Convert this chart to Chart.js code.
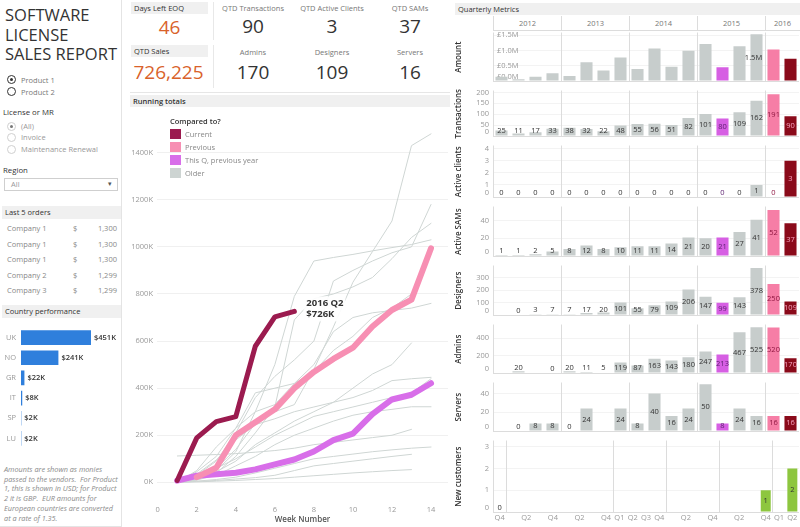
<!DOCTYPE html>
<html><head><meta charset="utf-8">
<script src="https://cdn.jsdelivr.net/npm/chart.js@4.4.1/dist/chart.umd.min.js"></script>
<style>
html,body{margin:0;padding:0}
body{width:800px;height:527px;overflow:hidden;background:#fff;font-family:'Open Sans',sans-serif;position:relative;color:#333}
.a{position:absolute;white-space:nowrap}
canvas{position:absolute}
.hdr{position:absolute;background:#f0f0f0;font-size:7.5px;font-weight:600;color:#333;line-height:12px;padding-left:3px;box-sizing:border-box;white-space:nowrap}
.rb{position:absolute;width:9px;height:9px;border-radius:50%;box-sizing:border-box;border:1px solid #333}
.rb.on::after{content:'';position:absolute;left:2px;top:2px;width:3px;height:3px;border-radius:50%;background:#333}
.rb.lt{border-color:#d0d0d0}
.rb.lt.on::after{background:#777}
.lbl{font-size:7.5px;color:#777;line-height:10px}
.kl{position:absolute;width:80px;text-align:center;font-size:7.5px;color:#777;line-height:10px;white-space:nowrap}
.kv{position:absolute;width:80px;text-align:center;font-size:19px;color:#333;line-height:22px}
.yh{position:absolute;top:16px;height:14px;line-height:14px;font-size:7.5px;color:#777;text-align:center;border-left:1px solid #dcdcdc;box-sizing:border-box}
.sw{position:absolute;width:11px;height:10px}
.lg{position:absolute;font-size:7.5px;color:#888;line-height:10px;white-space:nowrap}
</style></head><body>

<!-- left panel -->
<div class="a" style="left:0;top:0;width:121px;height:526px;border-right:1px solid #e4e4e4;border-bottom:1px solid #e4e4e4"></div>
<div class="a" style="left:5px;top:5px;font-size:16.5px;line-height:19.5px;color:#333">SOFTWARE<br>LICENSE<br>SALES REPORT</div>

<div class="rb on" style="left:7px;top:75px"></div><div class="a lbl" style="left:21px;top:75px">Product 1</div>
<div class="rb" style="left:7px;top:87px"></div><div class="a lbl" style="left:21px;top:87px">Product 2</div>

<div class="a" style="left:3px;top:107px;font-size:7.8px;color:#333;line-height:10px">License or MR</div>
<div class="rb lt on" style="left:7px;top:122px"></div><div class="a lbl" style="left:21px;top:121px;color:#999">(All)</div>
<div class="rb lt" style="left:7px;top:133px"></div><div class="a lbl" style="left:21px;top:132px;color:#999">Invoice</div>
<div class="rb lt" style="left:7px;top:145px"></div><div class="a lbl" style="left:21px;top:144px;color:#999">Maintenance Renewal</div>

<div class="a" style="left:3px;top:165px;font-size:7.8px;color:#333;line-height:10px">Region</div>
<div class="a" style="left:4px;top:178px;width:114px;height:13px;border:1px solid #cfcfcf;box-sizing:border-box"></div>
<div class="a lbl" style="left:11px;top:179px;color:#999">All</div>
<div class="a" style="left:108px;top:179px;font-size:7px;color:#555;line-height:10px">&#9662;</div>

<div class="hdr" style="left:2px;top:206px;width:119px;height:13px;font-weight:500">Last 5 orders</div>
<div id="orders"></div>

<div class="hdr" style="left:2px;top:305px;width:119px;height:13px;font-weight:500">Country performance</div>

<div class="a" style="left:4px;top:465px;font-size:7.3px;line-height:9.7px;color:#8a8a8a;font-style:italic">Amounts are shown as monies<br>passed to the vendors.&nbsp; For Product<br>1, this is shown in USD; for Product<br>2 it is GBP.&nbsp; EUR amounts for<br>European countries are converted<br>at a rate of 1.35.</div>

<!-- KPIs -->
<div class="hdr" style="left:131px;top:2px;width:77px;height:12px;font-weight:500">Days Left EOQ</div>
<div class="hdr" style="left:131px;top:45px;width:77px;height:12px;font-weight:500">QTD Sales</div>
<div id="kpiDays" class="a" style="left:131px;top:16px;width:77px;text-align:center;font-size:19px;line-height:22px;color:#d9622b"></div>
<div id="kpiSales" class="a" style="left:131px;top:61px;width:75px;text-align:center;font-size:19px;line-height:22px;color:#d9622b"></div>
<div class="a" style="left:213px;top:2px;width:1px;height:38px;background:#e8e8e8"></div>
<div class="a" style="left:213px;top:45px;width:1px;height:43px;background:#e8e8e8"></div>
<div id="kpis"></div>
<div class="a" style="left:130px;top:92px;width:320px;height:1px;background:#e6e6e6"></div>

<!-- running totals -->
<div class="hdr" style="left:130px;top:95px;width:320px;height:12px">Running totals</div>
<canvas id="run" width="323" height="420" style="left:127px;top:107px;width:323px;height:420px"></canvas>
<div class="a" style="left:170px;top:116px;font-size:7.5px;font-weight:600;color:#333;line-height:10px">Compared to?</div>
<div id="legend"></div>

<!-- quarterly -->
<div class="hdr" style="left:455px;top:3px;width:345px;height:12px;font-weight:500">Quarterly Metrics</div>
<div id="yearhdr"></div>
<div class="a" style="left:493px;top:30px;width:307px;height:1px;background:#dcdcdc"></div>

<script>
// ================= DATA =================
const orderCompanies = ['Company 1','Company 1','Company 1','Company 2','Company 3'];
const orderAmounts = ['1,300','1,300','1,300','1,299','1,299'];

const countries = ['UK','NO','GR','IT','SP','LU'];
const countrySalesK = [451, 241, 22, 8, 2, 2];

const daysLeftEOQ = '46';
const qtdSales = '726,225';
const kpiTopLabels = ['QTD Transactions','QTD Active Clients','QTD SAMs'];
const kpiTopValues = ['90','3','37'];
const kpiBottomLabels = ['Admins','Designers','Servers'];
const kpiBottomValues = ['170','109','16'];

const legendLabels = ['Current','Previous','This Q, previous year','Older'];
const legendColors = ['#9b1b4f','#f78fb3','#d86ee9','#cdd4d2'];

const weeks = [1,2,3,4,5,6,7,8,9,10,11,12,13,14];
const weekTicks = [0,2,4,6,8,10,12,14];
const runTicksK = [0,200,400,600,800,1000,1200,1400];
const runCurrent = [8,189,258,279,578,703,726];                         // $K
const runPrevious = [null,22,62,200,255,310,400,469,524,572,662,732,776,994];
const runThisQPrevYear = [7,28,34,41,55,76,97,131,179,207,290,352,372,421];
const older1 = [0,15,60,140,250,300,330,480,660,850,980,1110,1430,1480];
const older2 = [0,30,90,210,360,450,520,600,855,900,940,975,1000,1180];
const older3 = [0,10,40,110,210,320,690,780,800,830,870,950,1040,1100];
const older4 = [0,20,50,130,300,500,790,940,955,968,983,997,1010,1030];
const older5 = [0,45,110,230,300,330,420,470,560,620,700,740,800,null];
const older6 = [5,35,95,180,245,270,300,320,340,400,460,500,592,null];
const older7 = [0,20,45,90,160,210,260,300,340,360,390,432,440,446];
const older8 = [0,10,30,70,110,160,200,230,260,285,300,310,321,321];
const older9 = [112,115,118,122,128,135,145,160,170,180,190,200,225,null];
const older10 = [0,5,12,22,40,60,80,100,110,120,130,138,145,150];
const older11 = [0,4,8,14,20,30,50,70,80,90,100,110,119,null];
const older12 = [0,2,5,8,12,16,22,28,34,40,45,50,54,null];
const older13 = [0,50,150,230,380,400,420,500,640,700,720,730,740,760];
const older14 = [0,25,60,100,150,200,240,280,300,320,340,360,380,440];

const years = ['2012','2013','2014','2015','2016'];
const quartersPerYear = [4,4,4,4,2];
const quarters = ['2012 Q1','2012 Q2','2012 Q3','2012 Q4','2013 Q1','2013 Q2','2013 Q3','2013 Q4',
  '2014 Q1','2014 Q2','2014 Q3','2014 Q4','2015 Q1','2015 Q2','2015 Q3','2015 Q4','2016 Q1','2016 Q2'];
const amountM = [0.14,0.06,0.14,0.25,0.16,0.61,0.34,0.77,0.39,1.06,0.47,0.99,1.21,0.45,1.14,1.53,1.03,0.726];
const transactions = [25,11,17,33,38,32,22,48,55,56,51,82,101,80,109,162,191,90];
const activeClients = [0,0,0,0,0,0,0,0,0,0,0,0,0,0,0,1,0,3];
const activeSAMs = [1,1,2,5,8,12,8,10,11,11,14,21,20,21,27,41,52,37];
const designers = [null,0,3,7,7,17,20,101,55,79,109,206,147,99,143,378,250,109];
const admins = [null,20,null,0,20,11,5,119,87,163,143,180,247,213,467,525,520,170];
const servers = [null,0,8,8,0,24,null,24,8,40,16,24,50,8,24,16,16,16];

const amountTicks = [0,0.5,1,1.5];
const transactionTicks = [0,50,100,150,200];
const clientTicks = [0,1,2,3,4];
const samTicks = [0,20,40];
const designerTicks = [0,100,200,300];
const adminTicks = [0,200,400];
const serverTicks = [0,20,40];
const newCustomerTicks = [0,1,2,3];

const ncQuarters = ['Q4','Q1','Q2','Q3','Q4','Q1','Q2','Q3','Q4','Q1','Q2','Q3','Q4',
  'Q1','Q2','Q3','Q4','Q1','Q2','Q3','Q4','Q1','Q2'];
const ncShownTicks = [0,2,4,6,8,9,10,11,12,14,16,18,20,21,22];
const ncSectionStarts = [1,9,13,17,21];
const newCustomers = [0,null,null,null,null,null,null,null,null,null,null,null,null,
  null,null,null,null,null,null,null,1,null,2];

// ================= HTML parts =================
const FONT = "'Open Sans', sans-serif";
let h = '';
orderCompanies.forEach((c,i)=>{
  const cy = 228 + i*15.5 - 6;
  h += `<div class="a lbl" style="left:7px;top:${cy}px;line-height:12px;color:#888">${c}</div>`;
  h += `<div class="a lbl" style="left:73px;top:${cy}px;line-height:12px;color:#888">$</div>`;
  h += `<div class="a lbl" style="left:77px;width:40px;text-align:right;top:${cy}px;line-height:12px;color:#888">${orderAmounts[i]}</div>`;
});
document.getElementById('orders').innerHTML = h;

document.getElementById('kpiDays').textContent = daysLeftEOQ;
document.getElementById('kpiSales').textContent = qtdSales;
h = '';
const kpiX = [253,332,410];
kpiTopLabels.forEach((l,i)=>{
  h += `<div class="kl" style="left:${kpiX[i]-40}px;top:3px">${l}</div>`;
  h += `<div class="kv" style="left:${kpiX[i]-40}px;top:15px">${kpiTopValues[i]}</div>`;
  h += `<div class="kl" style="left:${kpiX[i]-40}px;top:47px">${kpiBottomLabels[i]}</div>`;
  h += `<div class="kv" style="left:${kpiX[i]-40}px;top:61px">${kpiBottomValues[i]}</div>`;
});
document.getElementById('kpis').innerHTML = h;

h = '';
legendLabels.forEach((l,i)=>{
  const cy = 134 + i*13;
  h += `<div class="sw" style="left:170px;top:${cy-5}px;background:${legendColors[i]}"></div>`;
  h += `<div class="lg" style="left:185px;top:${cy-5}px">${l}</div>`;
});
document.getElementById('legend').innerHTML = h;

h = '';
let xs = 493;
years.forEach((y,i)=>{
  const w = quartersPerYear[i]*17;
  h += `<div class="yh" style="left:${xs}px;width:${w}px">${y}</div>`;
  xs += w;
});
document.getElementById('yearhdr').innerHTML = h;

// ================= CHARTS =================
Chart.defaults.font.family = FONT;
Chart.defaults.animation = false;
Chart.defaults.plugins.legend.display = false;
Chart.defaults.plugins.tooltip.enabled = false;

const fixedTicks = vals => (s => { s.ticks = vals.map(v=>({value:v})); });

function mkCanvas(left, top, w, hgt){
  const c = document.createElement('canvas');
  c.width = w; c.height = hgt;
  c.style.left = left+'px'; c.style.top = top+'px';
  c.style.width = w+'px'; c.style.height = hgt+'px';
  document.body.appendChild(c);
  return c;
}

// --- country performance
const countryLabelPlugin = {
  id:'countryLabels',
  afterDatasetsDraw(chart){
    const ctx = chart.ctx, meta = chart.getDatasetMeta(0), ds = chart.data.datasets[0];
    ctx.save();
    ctx.font = `600 7.5px ${FONT}`; ctx.fillStyle = '#333';
    ctx.textAlign = 'left'; ctx.textBaseline = 'middle';
    meta.data.forEach((b,i)=>{ ctx.fillText('$'+ds.data[i]+'K', b.x+3, b.y); });
    ctx.restore();
  }
};
new Chart(mkCanvas(0,318,122,140), {
  type:'bar',
  data:{labels:countries, datasets:[{data:countrySalesK, backgroundColor:'#2f7fdc', barPercentage:0.73, categoryPercentage:1}]},
  options:{
    responsive:false, indexAxis:'y',
    layout:{padding:{left:0,right:4,top:0,bottom:0}},
    scales:{
      x:{min:0,max:625,display:false},
      y:{grid:{display:false, drawTicks:false}, border:{display:false},
         ticks:{color:'#999',font:{size:7.5},padding:5},
         afterFit(s){s.width=21;}}
    }
  },
  plugins:[countryLabelPlugin]
});

// --- running totals
const runOlder = [older1,older2,older3,older4,older5,older6,older7,older8,older9,older10,older11,older12,older13,older14];
const toXY = arr => weeks.map((w,i)=>({x:w, y:(arr[i]==null?null:arr[i]*1000)})).filter(p=>p.y!==null);
const endLabelPlugin = {
  id:'endLabel',
  afterDatasetsDraw(chart){
    const ctx = chart.ctx, meta = chart.getDatasetMeta(0);
    const p = meta.data[meta.data.length-1];
    const v = runCurrent[runCurrent.length-1];
    ctx.save();
    ctx.fillStyle = 'rgba(255,255,255,0.92)';
    ctx.fillRect(p.x+9, p.y-15, 42, 25);
    ctx.font = `bold 9.5px ${FONT}`; ctx.fillStyle = '#333';
    ctx.textAlign = 'left'; ctx.textBaseline = 'middle';
    ctx.fillText('2016 Q2', p.x+12, p.y-8);
    ctx.fillText('$'+v+'K', p.x+12, p.y+3);
    ctx.restore();
  }
};
const lineBase = {pointRadius:0, fill:false, tension:0, borderJoinStyle:'round', borderCapStyle:'round'};
new Chart(document.getElementById('run'), {
  type:'line',
  data:{datasets:[
    Object.assign({label:legendLabels[0], data:toXY(runCurrent), borderColor:legendColors[0], borderWidth:5}, lineBase),
    Object.assign({label:legendLabels[1], data:toXY(runPrevious), borderColor:legendColors[1], borderWidth:6}, lineBase),
    Object.assign({label:legendLabels[2], data:toXY(runThisQPrevYear), borderColor:legendColors[2], borderWidth:6}, lineBase),
    ...runOlder.map(o=>Object.assign({label:legendLabels[3], data:toXY(o), borderColor:'#cfd6d4', borderWidth:1}, lineBase))
  ]},
  options:{
    responsive:false,
    layout:{padding:{top:1,right:2,left:0,bottom:0}},
    scales:{
      x:{type:'linear', min:-0.036, max:14.87,
         afterBuildTicks:fixedTicks(weekTicks),
         ticks:{autoSkip:false, color:'#999', font:{size:7.5}, padding:5, maxRotation:0},
         grid:{display:false, drawTicks:false}, border:{display:false},
         title:{display:true, text:'Week Number', color:'#555', font:{size:8, weight:'600'}, padding:{top:0,bottom:2}},
         afterFit(s){s.height=27;}},
      y:{min:-75000, max:1558000,
         afterBuildTicks:fixedTicks(runTicksK.map(k=>k*1000)),
         ticks:{autoSkip:false, color:'#999', font:{size:7.5}, padding:4,
                callback:v=>(v/1000)+'K'},
         grid:{color:'#f0f0f0', drawTicks:false}, border:{display:false},
         afterFit(s){s.width=30;}}
    }
  },
  plugins:[endLabelPlugin]
});

// --- quarterly panels
const qColors = quarters.map((q,i)=> i===17?'#8a0a1a': i===16?'#f67ea6': i===13?'#d65fe3':'#c7cdcc');
const qTextColors = quarters.map((q,i)=> i===17?'#f7a3bf': i===16?'#8e1640': i===13?'#5a1d6e':'#333');

const barLabelPlugin = {
  id:'barLabels',
  afterDatasetsDraw(chart, args, opts){
    const ctx = chart.ctx, meta = chart.getDatasetMeta(0), ds = chart.data.datasets[0];
    ctx.save();
    ctx.font = `7.5px ${FONT}`;
    ctx.textAlign = 'center'; ctx.textBaseline = 'middle';
    meta.data.forEach((b,i)=>{
      const v = ds.data[i];
      if (v===null || v===undefined) return;
      if (opts.only && !opts.only.includes(i)) return;
      const mid = (b.y + b.base)/2;
      const y = Math.min(mid, b.base-4.5);
      ctx.fillStyle = opts.colors[i];
      ctx.fillText(opts.fmt ? opts.fmt(v) : String(v), b.x + (opts.dx||0), y);
    });
    ctx.restore();
  }
};
const dividerPlugin = {
  id:'dividers',
  beforeDatasetsDraw(chart, args, opts){
    const ctx = chart.ctx, a = chart.chartArea, x = chart.scales.x;
    ctx.save();
    ctx.strokeStyle = '#dcdcdc'; ctx.lineWidth = 1;
    ctx.beginPath();
    opts.at.forEach(i=>{
      const px = Math.round(x.getPixelForValue(i-0.5))+0.5;
      ctx.moveTo(px, a.top-1); ctx.lineTo(px, a.bottom);
    });
    const lx = Math.round(a.left)+0.5;
    ctx.moveTo(lx, a.top-1); ctx.lineTo(lx, a.bottom);
    const by = Math.round(a.bottom)+0.5;
    ctx.moveTo(a.left, by); ctx.lineTo(a.right, by);
    ctx.stroke();
    ctx.restore();
  }
};
const zeroShift = (txt, v) => v===0 ? [txt, ''] : txt;

const panels = [
  {title:'Amount', data:amountM, top:31, bottom:88, max:1.555, ticks:amountTicks, mirror:true,
   tick:v=>'£'+v.toFixed(1)+'M', only:[15], fmt:v=>v.toFixed(1)+'M', dx:-3},
  {title:'Transactions', data:transactions, top:89, bottom:143, max:204, ticks:transactionTicks},
  {title:'Active clients', data:activeClients, top:144, bottom:204, max:4.19, ticks:clientTicks},
  {title:'Active SAMs', data:activeSAMs, top:205, bottom:263, max:54.8, ticks:samTicks},
  {title:'Designers', data:designers, top:264, bottom:322, max:391, ticks:designerTicks},
  {title:'Admins', data:admins, top:323, bottom:380, max:544, ticks:adminTicks},
  {title:'Servers', data:servers, top:381, bottom:438, max:50.7, ticks:serverTicks},
];
const yearDividers = [4,8,12,16];
panels.forEach(p=>{
  const c = mkCanvas(450, p.top-6, 350, p.bottom-p.top+12);
  new Chart(c, {
    type:'bar',
    data:{labels:quarters, datasets:[{data:p.data, backgroundColor:qColors, barPercentage:0.71, categoryPercentage:1}]},
    options:{
      responsive:false,
      layout:{padding:{top:6,bottom:6,left:0,right:1}},
      scales:{
        x:{display:false},
        y:{min:0, max:p.max,
           afterBuildTicks:fixedTicks(p.ticks),
           ticks:{autoSkip:false, color:'#999', font:{size:7.5}, padding:4, mirror:!!p.mirror,
                  callback:v=>zeroShift(p.tick ? p.tick(v) : String(v), v)},
           grid:{color:'#f3f3f3', drawTicks:false}, border:{display:false},
           title:{display:true, text:p.title, color:'#333', font:{size:8, weight:'600'}, padding:{top:4,bottom:0}},
           afterFit(s){s.width=43;}}
      },
      plugins:{
        barLabels:{colors:qTextColors, only:p.only, fmt:p.fmt, dx:p.dx},
        dividers:{at:yearDividers}
      }
    },
    plugins:[dividerPlugin, barLabelPlugin]
  });
});

// --- new customers
new Chart(mkCanvas(450, 433, 350, 94), {
  type:'bar',
  data:{labels:ncQuarters, datasets:[{data:newCustomers, backgroundColor:'#8dc63f', barPercentage:0.75, categoryPercentage:1}]},
  options:{
    responsive:false,
    layout:{padding:{top:6,bottom:0,left:0,right:1}},
    scales:{
      x:{grid:{display:false, drawTicks:false}, border:{display:false},
         ticks:{autoSkip:false, maxRotation:0, color:'#999', font:{size:7.5}, padding:1,
                callback:(v,i)=> ncShownTicks.includes(i) ? ncQuarters[i] : ''},
         afterFit(s){s.height=15;}},
      y:{min:0, max:3.24,
         afterBuildTicks:fixedTicks(newCustomerTicks),
         ticks:{autoSkip:false, color:'#999', font:{size:7.5}, padding:4,
                callback:v=>zeroShift(String(v), v)},
         grid:{color:'#f3f3f3', drawTicks:false}, border:{display:false},
         title:{display:true, text:'New customers', color:'#333', font:{size:8, weight:'600'}, padding:{top:4,bottom:0}},
         afterFit(s){s.width=43;}}
    },
    plugins:{
      barLabels:{colors:newCustomers.map(()=> '#333')},
      dividers:{at:ncSectionStarts}
    }
  },
  plugins:[dividerPlugin, barLabelPlugin]
});
</script>
</body></html>
